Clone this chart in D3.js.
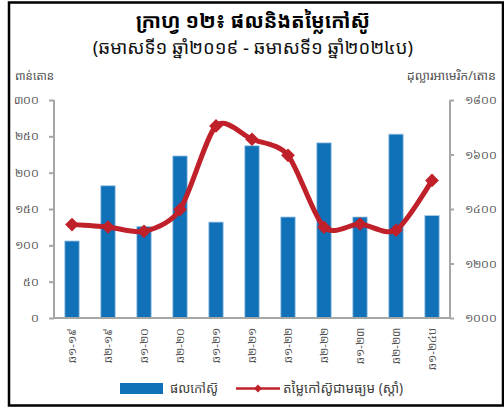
<!DOCTYPE html>
<html>
<head>
<meta charset="utf-8">
<script src="https://cdn.jsdelivr.net/npm/d3@7"></script>
<style>
  html, body { margin: 0; padding: 0; background: #fff; }
  svg { display: block; font-family: "Noto Sans Khmer", "Khmer OS", "Noto Sans", "DejaVu Sans", sans-serif; }
  .axis path, .axis line { stroke: #a6a6a6; stroke-width: 2; }
  .axis text { fill: #505050; font-size: 11px; }
</style>
</head>
<body>
<svg id="chart" width="504" height="407"></svg>
<script>
const W = 504, H = 407;
const M = { top: 100, right: 54, bottom: 89, left: 54 };

const categories = ['ឆ១-១៩', 'ឆ២-១៩', 'ឆ១-២០', 'ឆ២-២០', 'ឆ១-២១', 'ឆ២-២១',
  'ឆ១-២២', 'ឆ២-២២', 'ឆ១-២៣', 'ឆ២-២៣', 'ឆ១-២៤ប'];
const output = [106, 182, 126, 223, 132, 237, 139, 241, 139, 253, 141];      // thousand tonnes
const price = [1343, 1334, 1318, 1398, 1705, 1656, 1597, 1333, 1345, 1322, 1505]; // USD/tonne
const leftTicks = [0, 50, 100, 150, 200, 250, 300];
const rightTicks = [1000, 1200, 1400, 1600, 1800];

const title = 'ក្រាហ្វ ១២៖ ផលនិងតម្លៃកៅស៊ូ';
const subtitle = '(ឆមាសទី១ ឆ្នាំ២០១៩ - ឆមាសទី១ ឆ្នាំ២០២៤ប)';
const leftLabel = 'ពាន់តោន';
const rightLabel = 'ដុល្លារអាមេរិក/តោន';
const legendBar = 'ផលកៅស៊ូ';
const legendLine = 'តម្លៃកៅស៊ូជាមធ្យម (ស្ដាំ)';

const khmer = (n) => String(n).replace(/[0-9]/g, (d) => '០១២៣៤៥៦៧៨៩'[+d]);

const svg = d3.select('#chart');
const innerW = W - M.left - M.right;
const innerH = H - M.top - M.bottom;

// frame
svg.append('rect').attr('x', 9).attr('y', 2.5).attr('width', 494).attr('height', 403)
  .attr('fill', 'none').attr('stroke', '#000').attr('stroke-width', 2.5);

svg.append('text').attr('x', 253).attr('y', 28).attr('text-anchor', 'middle')
  .attr('font-size', 20).attr('font-weight', 'bold').attr('fill', '#000').text(title);
svg.append('text').attr('x', 253).attr('y', 54).attr('text-anchor', 'middle')
  .attr('font-size', 18.5).attr('fill', '#111').text(subtitle);

const g = svg.append('g').attr('transform', `translate(${M.left},${M.top})`);

const x = d3.scaleBand().domain(categories).range([0, innerW]).paddingInner(0.6).paddingOuter(0.3);
const yL = d3.scaleLinear().domain([0, 300]).range([innerH, 0]);
const yR = d3.scaleLinear().domain([1000, 1800]).range([innerH, 0]);

// bars
g.selectAll('rect.bar').data(output).join('rect')
  .attr('class', 'bar')
  .attr('x', (d, i) => x(categories[i]))
  .attr('y', (d) => yL(d))
  .attr('width', x.bandwidth())
  .attr('height', (d) => innerH - yL(d))
  .attr('fill', '#1070b8')
  .attr('stroke', '#a9cbe8').attr('stroke-width', 0.8);

// axes
const axL = g.append('g').attr('class', 'axis')
  .call(d3.axisLeft(yL).tickValues(leftTicks).tickSize(5).tickPadding(10).tickFormat(khmer));
axL.select('.domain').attr('d', `M0,${innerH}V0`);

const axR = g.append('g').attr('class', 'axis').attr('transform', `translate(${innerW},0)`)
  .call(d3.axisRight(yR).tickValues(rightTicks).tickSize(4).tickPadding(11).tickFormat(khmer));
axR.select('.domain').attr('d', `M0,${innerH}V0`);

const axB = g.append('g').attr('class', 'axis').attr('transform', `translate(0,${innerH})`)
  .call(d3.axisBottom(x).tickSize(0).tickPadding(0));
axB.select('.domain').attr('d', `M0,0H${innerW}`);
axB.selectAll('text')
  .attr('font-size', 12.5)
  .attr('transform', 'rotate(-90)')
  .attr('text-anchor', 'end')
  .attr('x', -10).attr('y', 0).attr('dy', '0.35em');

// axis titles
svg.append('text').attr('x', 15).attr('y', 80).attr('font-size', 11.5).attr('fill', '#505050').text(leftLabel);
svg.append('text').attr('x', 496).attr('y', 80).attr('text-anchor', 'end')
  .attr('font-size', 12.5).attr('fill', '#505050').text(rightLabel);

// price line
const cx = (i) => x(categories[i]) + x.bandwidth() / 2;
const line = d3.line().x((d, i) => cx(i)).y((d) => yR(d)).curve(d3.curveCardinal.tension(0.2));
g.append('path').datum(price).attr('d', line)
  .attr('fill', 'none').attr('stroke', '#c0202a').attr('stroke-width', 5);
g.selectAll('path.marker').data(price).join('path')
  .attr('class', 'marker')
  .attr('d', d3.symbol(d3.symbolDiamond2, 120))
  .attr('transform', (d, i) => `translate(${cx(i)},${yR(d)})`)
  .attr('fill', '#c0202a');

// legend
const lg = svg.append('g');
lg.append('rect').attr('x', 120).attr('y', 383).attr('width', 43).attr('height', 11).attr('fill', '#1070b8');
lg.append('text').attr('x', 170).attr('y', 393).attr('font-size', 13).attr('fill', '#404040').text(legendBar);
lg.append('line').attr('x1', 236).attr('x2', 280).attr('y1', 388.5).attr('y2', 388.5)
  .attr('stroke', '#c0202a').attr('stroke-width', 2.5);
lg.append('path').attr('d', d3.symbol(d3.symbolDiamond2, 40))
  .attr('transform', 'translate(258,388.5)').attr('fill', '#c0202a');
lg.append('text').attr('x', 283).attr('y', 393).attr('font-size', 13.5).attr('fill', '#404040').text(legendLine);
</script>
</body>
</html>
